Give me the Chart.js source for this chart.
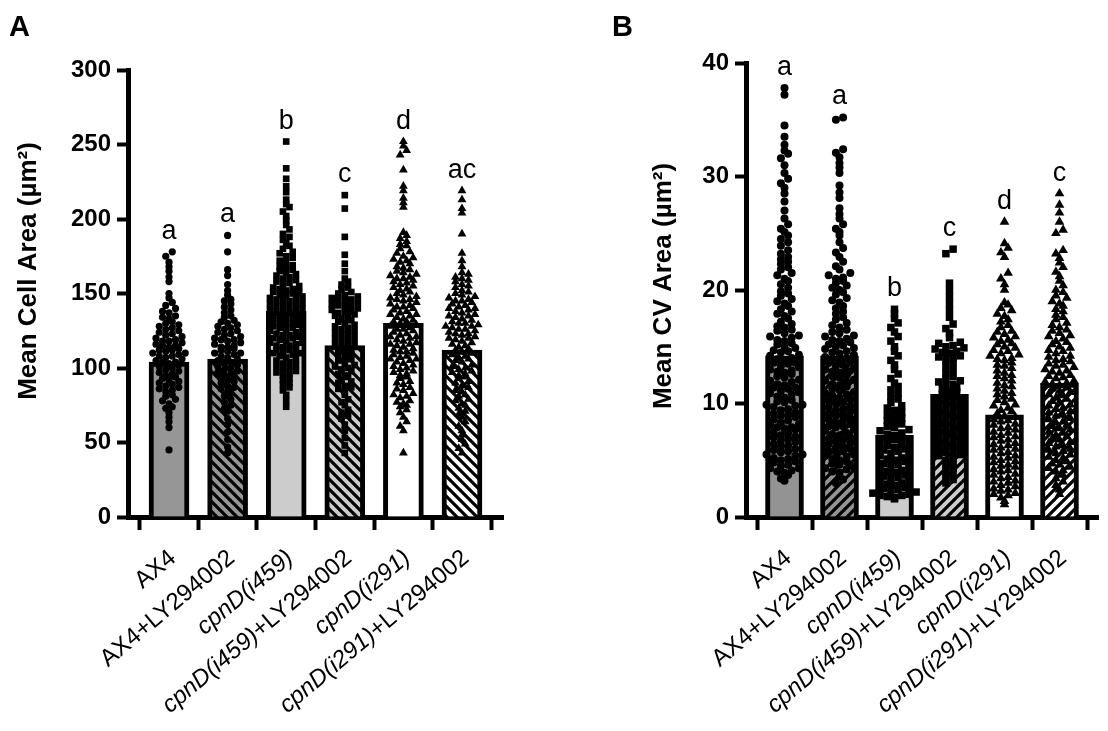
<!DOCTYPE html>
<html>
<head>
<meta charset="utf-8">
<script src="https://cdn.jsdelivr.net/npm/chart.js@4.4.1/dist/chart.umd.min.js"></script>
<style>
  html, body { margin: 0; padding: 0; background: #fff; }
  #wrap { position: relative; width: 1108px; height: 731px; }
  .panel { position: absolute; top: 0; width: 554px; height: 731px; }
  #panel-a { left: 0; }
  #panel-b { left: 554px; }
</style>
</head>
<body>
<div id="wrap">
  <div class="panel" id="panel-a"><canvas id="chart-a"></canvas></div>
  <div class="panel" id="panel-b"><canvas id="chart-b"></canvas></div>
</div>
<script>
// Categories (same for both panels)
const GROUPS = ['AX4', 'AX4+LY294002', 'cpnD(i459)', 'cpnD(i459)+LY294002', 'cpnD(i291)', 'cpnD(i291)+LY294002'];

// Panel A: mean cell area (µm²)
const A_TICKS   = [0, 50, 100, 150, 200, 250, 300];
const A_MEANS   = [104, 106, 138, 115, 130, 112];
const A_LETTERS = ['a', 'a', 'b', 'c', 'd', 'ac'];

const A_AX4 = [45, 60, 64, 67, 70, 73, 74, 76, 78, 79, 81, 82, 84, 85, 86, 87, 88, 89, 90, 91, 92, 93, 94,
  95, 96, 97, 98, 99, 100, 101, 102, 103, 104, 104, 105, 106, 107, 108, 108, 109, 110, 110, 111, 112, 112,
  113, 114, 115, 115, 116, 117, 118, 118, 119, 120, 121, 122, 123, 124, 125, 126, 127, 128, 129, 130, 131,
  133, 134, 135, 137, 138, 140, 142, 144, 147, 150, 158, 161, 165, 168, 171, 175, 178];
const A_AX4_LY = [43, 47, 52, 57, 62, 66, 71, 73, 75, 77, 79, 81, 83, 84, 86, 87, 88, 90, 91, 92, 93, 94,
  95, 96, 97, 98, 99, 100, 101, 102, 103, 104, 105, 106, 107, 108, 109, 110, 110, 111, 112, 113, 114, 114,
  115, 116, 117, 118, 119, 119, 120, 121, 122, 123, 124, 125, 126, 127, 128, 129, 130, 131, 132, 134, 135,
  137, 139, 141, 143, 145, 146, 149, 152, 156, 162, 166, 178, 189];
const A_I459 = [74, 78, 82, 85, 87, 89, 90, 92, 93, 95, 96, 97, 98, 99, 100, 101, 102, 103, 104, 105, 106,
  107, 108, 109, 110, 110, 111, 112, 112, 113, 114, 115, 115, 116, 117, 117, 118, 119, 120, 120, 121, 122,
  122, 123, 124, 125, 125, 126, 127, 127, 128, 129, 130, 130, 131, 132, 132, 133, 134, 135, 135, 136, 137,
  137, 138, 139, 139, 140, 141, 141, 142, 143, 143, 144, 145, 145, 146, 147, 147, 148, 149, 149, 150, 151,
  151, 152, 153, 153, 154, 155, 156, 157, 158, 159, 160, 161, 162, 163, 164, 165, 166, 167, 168, 169, 171,
  172, 174, 175, 177, 178, 180, 182, 184, 186, 188, 190, 193, 196, 199, 202, 205, 208, 210, 213, 218, 222,
  227, 234, 252];
const A_I459_LY = [43, 48, 53, 58, 62, 66, 68, 70, 72, 75, 77, 79, 82, 84, 86, 87, 88, 90, 91, 92, 94, 95,
  96, 98, 99, 100, 101, 102, 103, 105, 106, 107, 108, 109, 111, 112, 113, 114, 115, 116, 117, 118, 119, 120,
  121, 122, 123, 124, 125, 126, 127, 128, 129, 130, 131, 132, 133, 134, 135, 136, 137, 137, 138, 139, 140,
  141, 142, 142, 143, 144, 145, 146, 146, 147, 148, 149, 150, 151, 153, 154, 156, 158, 160, 165, 170, 176,
  188, 207, 216];
const A_I291 = [43, 58, 61, 64, 67, 70, 72, 74, 75, 76, 77, 78, 80, 81, 82, 83, 85, 86, 87, 89, 90, 91, 93,
  94, 95, 96, 97, 98, 99, 100, 101, 102, 103, 104, 105, 106, 106, 107, 108, 109, 110, 111, 111, 112, 113,
  114, 115, 116, 116, 117, 118, 119, 120, 121, 121, 122, 123, 124, 125, 126, 126, 127, 128, 129, 130, 131,
  131, 132, 133, 134, 135, 136, 136, 137, 138, 139, 140, 141, 141, 142, 143, 144, 145, 146, 146, 147, 148,
  149, 150, 151, 152, 153, 154, 155, 156, 157, 158, 159, 160, 160, 161, 162, 163, 164, 165, 166, 167, 168,
  170, 171, 172, 173, 174, 175, 177, 178, 180, 182, 183, 185, 187, 189, 191, 208, 211, 214, 219, 222, 233,
  243, 246, 249, 252];
const A_I291_LY = [43, 46, 49, 52, 55, 58, 61, 64, 67, 69, 71, 73, 75, 76, 78, 79, 81, 82, 84, 85, 87, 88,
  90, 91, 93, 94, 95, 96, 97, 98, 99, 100, 101, 102, 104, 105, 106, 107, 108, 109, 110, 111, 112, 113, 114,
  115, 116, 117, 118, 119, 120, 120, 121, 122, 123, 123, 124, 125, 126, 126, 127, 128, 128, 129, 130, 130,
  131, 132, 133, 134, 135, 135, 136, 137, 138, 139, 140, 140, 141, 142, 143, 144, 145, 145, 146, 147, 148,
  149, 150, 151, 152, 154, 155, 156, 158, 159, 160, 161, 163, 164, 168, 172, 177, 190, 204, 207, 213, 219];

// Panel B: mean CV area (µm²)
const B_TICKS   = [0, 10, 20, 30, 40];
const B_MEANS   = [14.2, 14.2, 7.2, 10.8, 9.0, 11.8];
const B_LETTERS = ['a', 'a', 'b', 'c', 'd', 'c'];

const B_AX4 = [3.2, 3.4, 3.7, 3.9, 4.0, 4.1, 4.3, 4.3, 4.5, 4.6, 4.8, 4.9, 5.0, 5.1, 5.2, 5.4, 5.5, 5.5,
  5.7, 5.8, 5.9, 6.0, 6.2, 6.3, 6.4, 6.6, 6.7, 6.9, 7.0, 7.1, 7.2, 7.4, 7.5, 7.7, 7.8, 7.9, 7.9, 8.1, 8.2,
  8.3, 8.5, 8.6, 8.8, 8.9, 9.0, 9.1, 9.2, 9.4, 9.5, 9.7, 9.8, 9.9, 9.9, 10.1, 10.2, 10.3, 10.5, 10.6, 10.8,
  10.9, 11.0, 11.1, 11.3, 11.4, 11.4, 11.6, 11.7, 11.9, 12.0, 12.1, 12.3, 12.4, 12.6, 12.7, 12.8, 12.9,
  13.0, 13.2, 13.3, 13.5, 13.6, 13.6, 13.8, 13.9, 14.0, 14.2, 14.3, 14.5, 14.6, 14.7, 14.9, 15.0, 15.2,
  15.3, 15.5, 15.6, 15.8, 15.9, 16.0, 16.2, 16.4, 16.5, 16.7, 16.8, 17.0, 17.2, 17.5, 17.7, 17.9, 18.1,
  18.3, 18.6, 18.8, 19.0, 19.2, 19.5, 19.7, 19.9, 20.2, 20.5, 20.8, 21.0, 21.3, 21.5, 21.8, 22.0, 22.3,
  22.5, 22.7, 22.9, 23.2, 23.5, 23.9, 24.2, 24.5, 24.8, 25.1, 25.4, 25.8, 26.3, 27.0, 27.8, 28.5, 29.0,
  29.4, 29.8, 30.3, 31.0, 31.6, 32.0, 32.3, 32.8, 33.5, 34.5, 37.2, 37.8];
const B_AX4_LY = [3.0, 3.3, 3.6, 3.9, 4.0, 4.2, 4.3, 4.4, 4.6, 4.7, 4.9, 5.0, 5.1, 5.3, 5.4, 5.5, 5.7,
  5.8, 5.8, 6.0, 6.1, 6.2, 6.4, 6.5, 6.7, 6.8, 6.9, 7.0, 7.2, 7.3, 7.4, 7.6, 7.7, 7.9, 8.0, 8.0, 8.2, 8.3,
  8.5, 8.6, 8.7, 8.9, 9.0, 9.1, 9.3, 9.4, 9.5, 9.7, 9.8, 10.0, 10.1, 10.2, 10.4, 10.5, 10.7, 10.8, 10.9,
  11.0, 11.2, 11.3, 11.5, 11.6, 11.7, 11.9, 12.0, 12.1, 12.3, 12.4, 12.5, 12.7, 12.8, 12.9, 13.0, 13.1,
  13.3, 13.4, 13.6, 13.7, 13.8, 13.9, 14.0, 14.1, 14.3, 14.4, 14.5, 14.6, 14.8, 14.9, 15.0, 15.1, 15.2,
  15.4, 15.5, 15.6, 15.7, 15.9, 16.0, 16.2, 16.3, 16.5, 16.7, 16.9, 17.1, 17.4, 17.6, 17.9, 18.1, 18.4,
  18.6, 18.9, 19.1, 19.3, 19.6, 19.8, 20.0, 20.2, 20.4, 20.6, 20.8, 21.0, 21.1, 21.3, 21.5, 21.8, 22.1,
  22.5, 22.9, 23.3, 23.7, 24.2, 24.8, 25.1, 25.4, 25.8, 26.3, 26.7, 27.2, 28.1, 28.6, 29.2, 30.3, 30.8,
  31.2, 31.7, 32.1, 32.4, 35.0, 35.2];
const B_I459 = [1.6, 1.7, 1.8, 1.9, 1.9, 2.0, 2.1, 2.2, 2.3, 2.4, 2.5, 2.6, 2.8, 2.9, 3.0, 3.1, 3.2, 3.4,
  3.5, 3.6, 3.7, 3.9, 4.0, 4.1, 4.2, 4.3, 4.5, 4.6, 4.7, 4.9, 5.0, 5.1, 5.2, 5.4, 5.5, 5.6, 5.8, 5.9, 6.0,
  6.1, 6.3, 6.4, 6.5, 6.6, 6.8, 6.9, 7.0, 7.2, 7.3, 7.4, 7.6, 7.7, 7.9, 8.0, 8.2, 8.4, 8.5, 8.7, 8.9, 9.0,
  9.2, 9.4, 9.6, 9.8, 10.1, 10.4, 10.6, 10.9, 11.2, 11.5, 11.8, 12.2, 12.6, 13.0, 13.4, 13.8, 14.2, 14.6,
  15.0, 15.5, 15.9, 16.3, 16.7, 17.1, 17.5, 17.9, 18.3];
const B_I459_LY = [3.0, 3.3, 3.5, 3.8, 4.0, 4.3, 4.5, 4.8, 5.0, 5.2, 5.4, 5.5, 5.7, 5.8, 5.9, 6.0, 6.2,
  6.3, 6.4, 6.6, 6.7, 6.9, 7.0, 7.1, 7.3, 7.4, 7.5, 7.7, 7.8, 7.9, 8.1, 8.2, 8.3, 8.5, 8.6, 8.8, 8.9, 9.0,
  9.2, 9.3, 9.4, 9.6, 9.7, 9.9, 10.0, 10.1, 10.3, 10.4, 10.6, 10.8, 11.0, 11.1, 11.3, 11.4, 11.6, 11.7,
  11.9, 12.0, 12.2, 12.4, 12.7, 13.0, 13.3, 13.6, 13.9, 14.0, 14.1, 14.2, 14.4, 14.5, 14.6, 14.8, 14.9,
  15.0, 15.1, 15.3, 15.4, 15.8, 16.2, 16.6, 17.0, 17.6, 18.2, 18.8, 19.4, 20.0, 20.6, 23.2, 23.6];
const B_I291 = [1.1, 1.4, 1.7, 1.9, 2.0, 2.1, 2.3, 2.4, 2.5, 2.7, 2.8, 3.0, 3.1, 3.2, 3.4, 3.5, 3.7, 3.8,
  4.0, 4.1, 4.2, 4.4, 4.5, 4.6, 4.8, 4.9, 5.0, 5.2, 5.3, 5.4, 5.6, 5.7, 5.9, 6.0, 6.1, 6.3, 6.4, 6.5, 6.7,
  6.8, 7.0, 7.1, 7.2, 7.4, 7.5, 7.7, 7.8, 7.9, 8.1, 8.2, 8.4, 8.5, 8.6, 8.8, 8.9, 9.1, 9.3, 9.4, 9.6, 9.8,
  9.9, 10.1, 10.3, 10.4, 10.6, 10.8, 10.9, 11.1, 11.3, 11.5, 11.6, 11.8, 12.0, 12.2, 12.4, 12.5, 12.7,
  12.9, 13.1, 13.3, 13.4, 13.6, 13.8, 13.9, 14.0, 14.2, 14.3, 14.4, 14.6, 14.7, 14.9, 15.0, 15.2, 15.3,
  15.5, 15.6, 15.8, 15.9, 16.1, 16.3, 16.4, 16.7, 16.9, 17.2, 17.4, 17.7, 17.9, 18.2, 18.4, 18.7, 18.9,
  20.0, 20.5, 21.0, 21.5, 22.9, 23.3, 23.7, 24.1, 26.0];
const B_I291_LY = [2.0, 2.4, 2.8, 3.1, 3.4, 3.7, 4.0, 4.1, 4.3, 4.4, 4.6, 4.7, 4.9, 5.0, 5.2, 5.3, 5.5,
  5.6, 5.8, 5.9, 6.0, 6.2, 6.3, 6.5, 6.6, 6.8, 6.9, 7.1, 7.2, 7.4, 7.5, 7.7, 7.8, 8.0, 8.1, 8.3, 8.4, 8.6,
  8.7, 8.9, 9.0, 9.2, 9.3, 9.5, 9.6, 9.8, 9.9, 10.1, 10.2, 10.4, 10.5, 10.7, 10.8, 11.0, 11.1, 11.3, 11.4,
  11.6, 11.7, 11.8, 11.9, 12.0, 12.2, 12.3, 12.4, 12.5, 12.7, 12.8, 12.9, 13.0, 13.2, 13.3, 13.4, 13.5,
  13.7, 13.8, 13.9, 14.1, 14.2, 14.4, 14.6, 14.7, 14.9, 15.0, 15.2, 15.4, 15.5, 15.7, 15.9, 16.0, 16.2,
  16.4, 16.5, 16.7, 16.9, 17.1, 17.4, 17.6, 17.8, 18.1, 18.3, 18.6, 18.8, 19.0, 19.3, 19.5, 19.8, 20.0,
  20.4, 20.8, 21.2, 21.6, 22.0, 22.4, 22.8, 23.2, 23.5, 25.0, 25.3, 26.0, 26.8, 27.5, 28.5];

const FONT = '"Liberation Sans", Arial, Helvetica, sans-serif';
const POINT_STYLES = ['circle', 'circle', 'rect', 'rect', 'triangle', 'triangle'];
const LABEL_ANGLE  = 40;

// diagonal hatch tile: black stripes over a fill colour
function hatch(bg, dir) {
  const s = 10;
  const c = document.createElement('canvas');
  c.width = s; c.height = s;
  const g = c.getContext('2d');
  g.fillStyle = bg;
  g.fillRect(0, 0, s, s);
  g.strokeStyle = '#000';
  g.lineWidth = 3.2;
  g.beginPath();
  for (let k = -1; k <= 1; k++) {
    if (dir === 'down') { g.moveTo(k * s - 1, -1); g.lineTo(k * s + s + 1, s + 1); }
    else { g.moveTo(k * s - 1, s + 1); g.lineTo(k * s + s + 1, -1); }
  }
  g.stroke();
  return g.createPattern(c, 'repeat');
}

// column-scatter layout: values falling in the same pixel row are spread
// side by side around the category centre (smallest in the middle)
function spread(values, pxPerY, gap) {
  const rowH = gap * 0.87;
  const rows = new Map();
  values.slice().sort((a, b) => a - b).forEach(v => {
    const k = Math.floor(v * pxPerY / rowH);
    if (!rows.has(k)) rows.set(k, []);
    rows.get(k).push(v);
  });
  const out = [];
  rows.forEach(list => {
    const n = list.length;
    const slots = list.map((_, j) => (j - (n - 1) / 2) * gap)
      .sort((a, b) => Math.abs(a) - Math.abs(b) || a - b);
    list.forEach((v, j) => out.push({ v, x: slots[j] }));
  });
  return out;
}

function drawGroupLabel(ctx, text, px, py) {
  const cut = text.indexOf('+');
  const head = cut < 0 ? text : text.slice(0, cut);
  const segs = [{ t: head, italic: head.startsWith('cpnD') }];
  if (cut >= 0) segs.push({ t: text.slice(cut), italic: false });
  let total = 0;
  segs.forEach(s => {
    s.font = (s.italic ? 'italic ' : '') + '24px ' + FONT;
    ctx.font = s.font;
    s.w = ctx.measureText(s.t).width;
    total += s.w;
  });
  ctx.save();
  ctx.translate(px, py);
  ctx.rotate(-LABEL_ANGLE * Math.PI / 180);
  ctx.textAlign = 'left';
  ctx.textBaseline = 'middle';
  let cx = -total;
  segs.forEach(s => { ctx.font = s.font; ctx.fillText(s.t, cx, 0); cx += s.w; });
  ctx.restore();
}

const annotate = {
  id: 'annotate',
  afterDraw(chart, args, o) {
    const { ctx, scales: { x, y } } = chart;
    ctx.save();
    ctx.fillStyle = '#000';

    ctx.font = 'bold 29px ' + FONT;
    ctx.textAlign = 'left';
    ctx.textBaseline = 'alphabetic';
    ctx.fillText(o.panel, o.panelX, 36);

    ctx.save();
    ctx.translate(o.titleX, o.titleY);
    ctx.rotate(-Math.PI / 2);
    ctx.font = 'bold 26px ' + FONT;
    ctx.textAlign = 'center';
    ctx.textBaseline = 'middle';
    ctx.fillText(o.title, 0, 0);
    ctx.restore();

    ctx.font = '27px ' + FONT;
    ctx.textAlign = 'center';
    ctx.textBaseline = 'alphabetic';
    o.letters.forEach((t, i) => {
      const top = Math.max(...o.values[i]);
      ctx.fillText(t, x.getPixelForValue(i), y.getPixelForValue(top) - 13);
    });

    GROUPS.forEach((g, i) => drawGroupLabel(ctx, g, x.getPixelForValue(i) + 4, y.bottom + 38));
    ctx.restore();
  }
};

function makePanel(id, p) {
  const bars = {
    type: 'bar',
    data: p.means.map((m, i) => ({ x: i, y: m })),
    backgroundColor: p.fills,
    borderColor: '#000',
    borderWidth: 5,
    barThickness: p.barW,
    order: 1,
  };
  const dots = p.values.map((vals, i) => ({
    type: 'scatter',
    data: [],
    pointStyle: POINT_STYLES[i],
    pointRadius: p.radii[i],
    backgroundColor: '#000',
    borderColor: '#000',
    borderWidth: 0,
    order: 0,
  }));

  const chart = new Chart(document.getElementById(id), {
    type: 'scatter',
    data: { datasets: [bars, ...dots] },
    options: {
      responsive: true,
      maintainAspectRatio: false,
      animation: false,
      events: [],
      layout: { padding: { left: 0, top: p.top, right: p.right, bottom: 194 } },
      plugins: {
        legend: { display: false },
        tooltip: { enabled: false },
        annotate: { panel: p.panel, panelX: p.panelX, title: p.title, titleX: p.titleX, titleY: p.titleY,
                    letters: p.letters, values: p.values },
      },
      scales: {
        x: {
          type: 'linear', min: -0.7, max: 5.7, offset: false,
          afterBuildTicks: s => { s.ticks = GROUPS.map((g, i) => ({ value: i })); },
          afterFit: s => { s.height = 20; },
          ticks: { display: false },
          grid: { drawOnChartArea: false, drawTicks: true, tickLength: 13, tickWidth: 4, tickColor: '#000' },
          border: { display: true, color: '#000', width: 5 },
        },
        y: {
          min: 0, max: p.ticks[p.ticks.length - 1],
          afterBuildTicks: s => { s.ticks = p.ticks.map(v => ({ value: v })); },
          afterFit: s => { s.width = p.yW; },
          ticks: { color: '#000', padding: 6, font: { family: FONT, size: 24, weight: 'bold' } },
          grid: { drawOnChartArea: false, drawTicks: true, tickLength: 11, tickWidth: 4, tickColor: '#000' },
          border: { display: true, color: '#000', width: 5 },
        },
      },
    },
    plugins: [annotate],
  });

  const xs = chart.scales.x, ys = chart.scales.y;
  const pxX = xs.getPixelForValue(1) - xs.getPixelForValue(0);
  const pxY = ys.getPixelForValue(0) - ys.getPixelForValue(1);
  p.values.forEach((vals, i) => {
    chart.data.datasets[i + 1].data = spread(vals, pxY, p.gap).map(q => ({ x: i + q.x / pxX, y: q.v }));
  });
  chart.update('none');
  return chart;
}

makePanel('chart-a', {
  panel: 'A', panelX: 9, title: 'Mean Cell Area (µm²)', titleX: 29, titleY: 271,
  top: 70, right: 51, yW: 128, barW: 40, gap: 6.5, radii: [3.6, 3.6, 4.7, 4.7, 5.1, 5.1],
  ticks: A_TICKS, means: A_MEANS, letters: A_LETTERS,
  values: [A_AX4, A_AX4_LY, A_I459, A_I459_LY, A_I291, A_I291_LY],
  fills: ['#969696', hatch('#969696', 'down'), '#cccccc', hatch('#cccccc', 'down'), '#ffffff', hatch('#ffffff', 'down')],
});

makePanel('chart-b', {
  panel: 'B', panelX: 58, title: 'Mean CV Area (µm²)', titleX: 110, titleY: 286,
  top: 63, right: 10, yW: 192, barW: 38, gap: 7.2, radii: [4.0, 4.0, 5.3, 5.3, 5.6, 5.6],
  ticks: B_TICKS, means: B_MEANS, letters: B_LETTERS,
  values: [B_AX4, B_AX4_LY, B_I459, B_I459_LY, B_I291, B_I291_LY],
  fills: ['#939393', hatch('#939393', 'up'), '#cccccc', hatch('#cccccc', 'up'), '#ffffff', hatch('#ffffff', 'up')],
});
</script>
</body>
</html>
